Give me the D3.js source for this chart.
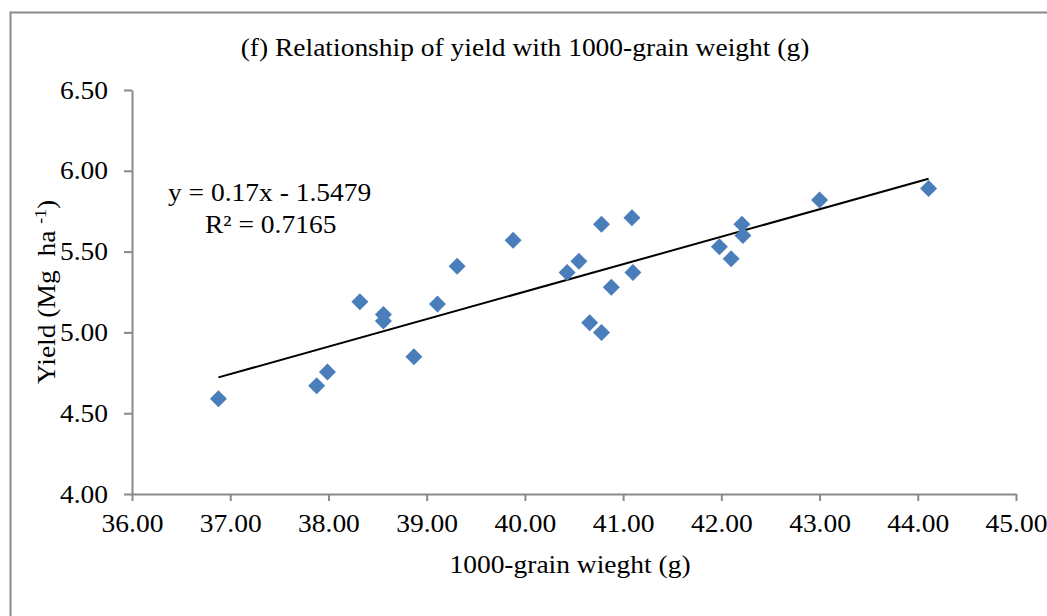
<!DOCTYPE html>
<html>
<head>
<meta charset="utf-8">
<script src="https://cdn.jsdelivr.net/npm/d3@7"></script>
<style>
  html, body { margin: 0; padding: 0; background: #fff; }
  svg { display: block; }
  text { font-family: "Liberation Serif", "Times New Roman", serif; fill: #000; }
</style>
</head>
<body>
<svg id="chart" width="1047" height="616"></svg>
<script>
// ---- data ----
const grainWeight = [36.88, 37.88, 37.99, 38.32, 38.56, 38.56, 38.87, 39.11, 39.31, 39.88,
                     40.43, 40.55, 40.78, 40.88, 40.66, 40.78, 41.09, 41.10, 41.98, 42.10,
                     42.21, 42.22, 43.00, 44.11];
const yieldVals   = [4.59, 4.67, 4.755, 5.19, 5.11, 5.07, 4.85, 5.175, 5.41, 5.57,
                     5.37, 5.44, 5.67, 5.28, 5.06, 5.00, 5.71, 5.37, 5.53, 5.455,
                     5.67, 5.60, 5.82, 5.89];
const xTicks = [36, 37, 38, 39, 40, 41, 42, 43, 44, 45];
const yTicks = [4.0, 4.5, 5.0, 5.5, 6.0, 6.5];
const trendSlope = 0.17;
const trendIntercept = -1.5479;
const titleText = "(f) Relationship of yield with 1000-grain weight (g)";
const xTitle = "1000-grain wieght (g)";
const eqText = "y = 0.17x - 1.5479";
const r2Text = "R² = 0.7165";

// ---- layout ----
const svg = d3.select("#chart");
const pL = 132, pR = 1016, pT = 90, pB = 494;
const axisColor = "#898989";
const markerColor = "#4a7ebb";
const fs = 25;
const sx = 1.1; // horizontal stretch of text in reference

const x = d3.scaleLinear().domain([36, 45]).range([pL, pR]);
const y = d3.scaleLinear().domain([4, 6.5]).range([pB, pT]);

// outer frame
svg.append("rect")
  .attr("x", 10.5).attr("y", 12.5)
  .attr("width", 1100).attr("height", 700)
  .attr("fill", "none").attr("stroke", "#8a8a8a").attr("stroke-width", 2);

function stretchedText(g, tx, ty, str, size, anchor) {
  return g.append("g").attr("transform", `translate(${tx},${ty}) scale(${sx},1)`)
    .append("text")
    .attr("font-size", size)
    .attr("text-anchor", anchor || "middle")
    .text(str);
}

// title
stretchedText(svg, 525, 56, titleText, fs, "middle");

// axes
const xAxis = d3.axisBottom(x).tickValues(xTicks).tickFormat(d3.format(".2f"))
  .tickSize(7).tickSizeOuter(0).tickPadding(13);
const yAxis = d3.axisLeft(y).tickValues(yTicks).tickFormat(d3.format(".2f"))
  .tickSize(8).tickSizeOuter(0).tickPadding(16);

const gx = svg.append("g").attr("transform", `translate(0,${pB})`).call(xAxis);
const gy = svg.append("g").attr("transform", `translate(${pL},0)`).call(yAxis);

[gx, gy].forEach(g => {
  g.select(".domain").attr("stroke", axisColor).attr("stroke-width", 2);
  g.selectAll(".tick line").attr("stroke", axisColor).attr("stroke-width", 2);
  g.selectAll(".tick text").attr("font-size", fs)
    .attr("font-family", '"Liberation Serif", "Times New Roman", serif').attr("fill", "#000");
});
gx.selectAll(".tick text").attr("transform", `scale(${sx},1)`);
gy.selectAll(".tick text").each(function(){
  const t = d3.select(this);
  const xx = +t.attr("x");
  t.attr("x", xx / sx).attr("transform", `scale(${sx},1)`);
});

// axis titles
stretchedText(svg, 570, 573, xTitle, fs, "middle");

const yt = svg.append("g").attr("transform", `translate(55,${(pT + pB) / 2}) rotate(-90) scale(${sx},1)`)
  .append("text").attr("font-size", fs).attr("text-anchor", "middle")
  .style("white-space", "pre").attr("xml:space", "preserve");
yt.append("tspan").text("Yield (Mg  ha ");
yt.append("tspan").attr("font-size", 16).attr("dy", -9).text("-1");
yt.append("tspan").attr("dy", 9).text(")");

// trendline
const xmin = d3.min(grainWeight), xmax = d3.max(grainWeight);
const trend = [xmin, xmax].map(v => [v, trendSlope * v + trendIntercept]);
svg.append("path")
  .attr("d", d3.line().x(d => x(d[0])).y(d => y(d[1]))(trend))
  .attr("fill", "none").attr("stroke", "#000").attr("stroke-width", 2);

// markers (diamonds)
const r = 8.5;
const diamond = `M0,${-r}L${r},0L0,${r}L${-r},0Z`;
svg.append("g").selectAll("path")
  .data(grainWeight.map((g, i) => [g, yieldVals[i]]))
  .join("path")
  .attr("d", diamond)
  .attr("transform", d => `translate(${x(d[0])},${y(d[1])})`)
  .attr("fill", markerColor);

// equation text
stretchedText(svg, 168, 201, eqText, fs, "start");
stretchedText(svg, 205, 233, r2Text, fs, "start");
</script>
</body>
</html>
